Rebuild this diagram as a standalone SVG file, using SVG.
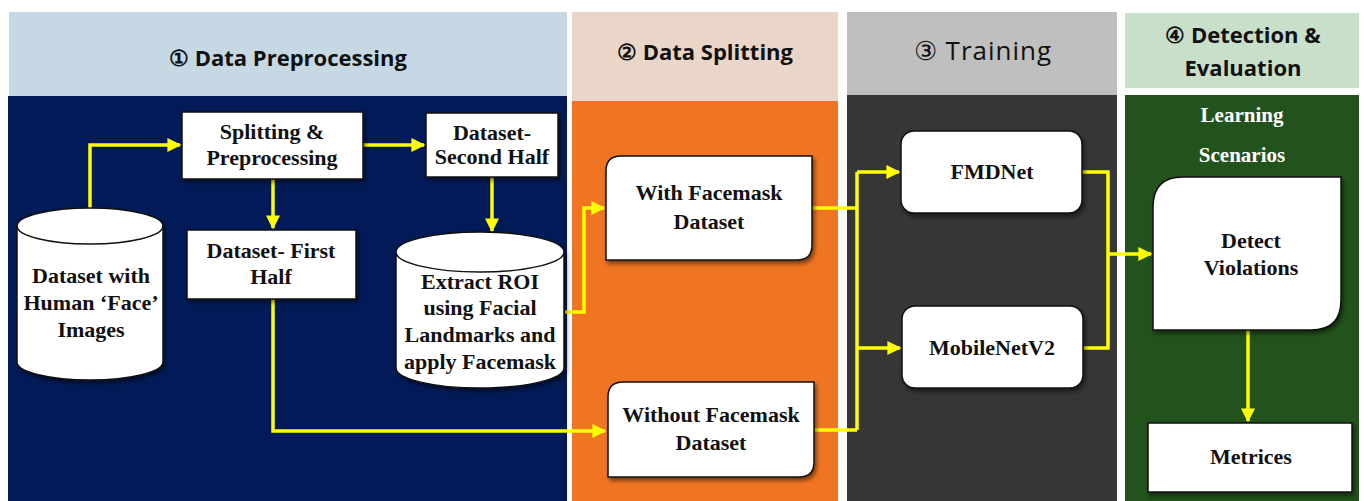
<svg xmlns="http://www.w3.org/2000/svg" width="1365" height="501" viewBox="0 0 1365 501">
<style>
.hdr{font-family:"Open Sans","Liberation Sans",sans-serif;font-weight:bold;font-size:22px;fill:#111;text-anchor:middle}
.lbl{font-family:"Liberation Serif","DejaVu Serif",serif;font-weight:bold;font-size:22px;fill:#111;text-anchor:middle}
.wl{font-family:"Liberation Serif","DejaVu Serif",serif;font-weight:bold;font-size:21px;fill:#fff;text-anchor:middle}
.node{fill:#fff;stroke:#111;stroke-width:1.5;filter:url(#sh)}
.conn{fill:none;stroke:#ffff00;stroke-width:3.5}
</style>
<defs>
<marker id="ah" viewBox="0 0 10 10" refX="9" refY="5" markerWidth="4" markerHeight="4" orient="auto" markerUnits="strokeWidth">
<path d="M0,0 L10,5 L0,10 z" fill="#ffff00"/>
</marker>
<filter id="sh" x="-10%" y="-10%" width="130%" height="130%">
<feDropShadow dx="2" dy="3" stdDeviation="2" flood-color="#000" flood-opacity="0.5"/>
</filter>
</defs>
<rect width="1365" height="501" fill="#fff"/>
<!-- columns -->
<g id="col1">
<rect x="9" y="12" width="558" height="84" fill="#c5d8e4"/>
<rect x="8" y="96" width="559" height="405" fill="#021b58"/>
<text class="hdr" x="288" y="66">① Data Preprocessing</text>
</g>
<g id="col2">
<rect x="572" y="12" width="266" height="89" fill="#ead6c9"/>
<rect x="572" y="101" width="266" height="400" fill="#f07522"/>
<text class="hdr" x="705" y="60">② Data Splitting</text>
</g>
<g id="col3">
<rect x="847" y="12" width="270" height="83" fill="#bfbfbf"/>
<rect x="847" y="95" width="270" height="406" fill="#363636"/>
<text class="hdr" x="983" y="60" style="font-weight:normal;font-size:26px;letter-spacing:1px">③ Training</text>
</g>
<g id="col4">
<rect x="1125" y="13" width="234" height="75" fill="#c8dfc9"/>
<rect x="1125" y="95" width="234" height="406" fill="#23531c"/>
<text class="hdr" x="1243" y="43">④ Detection &amp;</text>
<text class="hdr" x="1243" y="76">Evaluation</text>
<text class="wl" x="1242" y="122">Learning</text>
<text class="wl" x="1242" y="162">Scenarios</text>
</g>
<!-- connectors -->
<g id="connectors">
<path class="conn" d="M90,208 V145 H180" marker-end="url(#ah)"/>
<path class="conn" d="M363,145 H424" marker-end="url(#ah)"/>
<path class="conn" d="M273,179 V228" marker-end="url(#ah)"/>
<path class="conn" d="M492,177 V231" marker-end="url(#ah)"/>
<path class="conn" d="M273,299 V431 H605" marker-end="url(#ah)"/>
<path class="conn" d="M565,312 H584 V208 H604" marker-end="url(#ah)"/>
<path class="conn" d="M812,208 H857"/>
<path class="conn" d="M814,430 H857"/>
<path class="conn" d="M857,172 V430"/>
<path class="conn" d="M857,172 H899" marker-end="url(#ah)"/>
<path class="conn" d="M857,348 H900" marker-end="url(#ah)"/>
<path class="conn" d="M1082,172 H1108 V348 H1083"/>
<path class="conn" d="M1108,254 H1151" marker-end="url(#ah)"/>
<path class="conn" d="M1248,330 V421" marker-end="url(#ah)"/>
</g>
<!-- nodes -->
<g id="n-dataset">
<path class="node" d="M17,226 V362 A73,18 0 0 0 163,362 V226 A73,18 0 0 0 17,226 Z"/>
<path d="M17,226 A73,18 0 0 0 163,226" fill="none" stroke="#111" stroke-width="1.5"/>
<text class="lbl" x="91" y="283">Dataset with</text>
<text class="lbl" x="91" y="310">Human ‘Face’</text>
<text class="lbl" x="91" y="337">Images</text>
</g>
<g id="n-split">
<rect class="node" x="182" y="112" width="181" height="67"/>
<text class="lbl" x="272" y="139">Splitting &amp;</text>
<text class="lbl" x="272" y="165">Preprocessing</text>
</g>
<g id="n-second">
<rect class="node" x="426" y="113" width="132" height="64"/>
<text class="lbl" x="492" y="140">Dataset-</text>
<text class="lbl" x="492" y="164">Second Half</text>
</g>
<g id="n-first">
<rect class="node" x="187" y="230" width="169" height="69"/>
<text class="lbl" x="271" y="258">Dataset- First</text>
<text class="lbl" x="271" y="284">Half</text>
</g>
<g id="n-roi">
<path class="node" d="M396,252 V368 A84,20 0 0 0 564,368 V252 A84,20 0 0 0 396,252 Z"/>
<path d="M396,252 A84,20 0 0 0 564,252" fill="none" stroke="#111" stroke-width="1.5"/>
<text class="lbl" x="480" y="289">Extract ROI</text>
<text class="lbl" x="480" y="315">using Facial</text>
<text class="lbl" x="480" y="342">Landmarks and</text>
<text class="lbl" x="480" y="369">apply Facemask</text>
</g>
<g id="n-with">
<path class="node" d="M621,156 H812 V245 Q812,260 797,260 H606 V171 Q606,156 621,156 Z"/>
<text class="lbl" x="709" y="200">With Facemask</text>
<text class="lbl" x="709" y="229">Dataset</text>
</g>
<g id="n-without">
<path class="node" d="M623,382 H814 V462 Q814,477 799,477 H608 V397 Q608,382 623,382 Z"/>
<text class="lbl" x="711" y="422">Without Facemask</text>
<text class="lbl" x="711" y="450">Dataset</text>
</g>
<g id="n-fmdnet">
<rect class="node" x="901" y="131" width="181" height="82" rx="13"/>
<text class="lbl" x="992" y="179">FMDNet</text>
</g>
<g id="n-mobilenet">
<rect class="node" x="902" y="306" width="181" height="82" rx="13"/>
<text class="lbl" x="992" y="355">MobileNetV2</text>
</g>
<g id="n-detect">
<path class="node" d="M1183,177 H1341 V300 Q1341,330 1311,330 H1153 V207 Q1153,177 1183,177 Z"/>
<text class="lbl" x="1251" y="248">Detect</text>
<text class="lbl" x="1251" y="275">Violations</text>
</g>
<g id="n-metrices">
<rect class="node" x="1148" y="423" width="204" height="69"/>
<text class="lbl" x="1251" y="464">Metrices</text>
</g>
</svg>
